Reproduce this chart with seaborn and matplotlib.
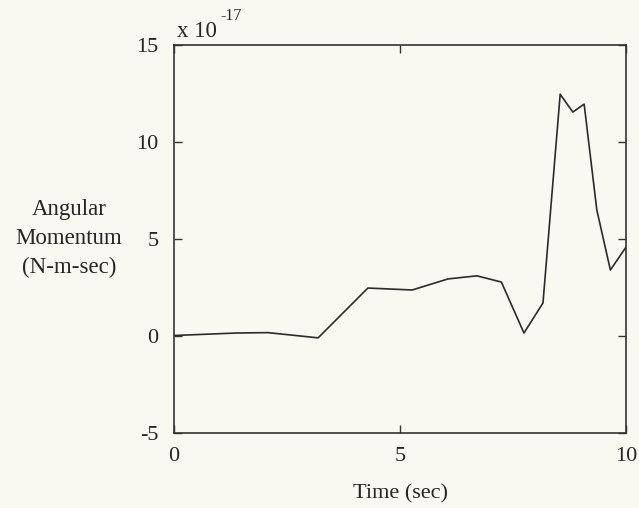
import matplotlib
matplotlib.use("Agg")
import matplotlib.pyplot as plt
import numpy as np
import seaborn as sns
import pandas as pd

# time (sec) and angular momentum (x 1e-17 N-m-sec)
time_sec = [0.0, 1.39, 2.08, 3.19, 4.29, 5.27, 6.06, 6.70, 7.24, 7.74, 8.16,
            8.54, 8.82, 9.07, 9.35, 9.65, 10.0]
momentum = [0.02, 0.15, 0.17, -0.10, 2.47, 2.37, 2.94, 3.10, 2.78, 0.15, 1.70,
            12.47, 11.55, 11.96, 6.50, 3.40, 4.60]

df = pd.DataFrame({"Time": time_sec, "Momentum": momentum})

sns.set_style("ticks")
plt.rcParams['font.family'] = ['Liberation Serif', 'DejaVu Serif']
plt.rcParams['axes.unicode_minus'] = False

bg = '#f9f9f1'
fig = plt.figure(figsize=(6.39, 5.08), dpi=100, facecolor=bg)
ax = fig.add_axes([0.272, 0.148, 0.708, 0.763])
ax.set_facecolor(bg)

sns.lineplot(x='Time', y='Momentum', data=df, ax=ax, color='#2b2b2b', linewidth=1.2)

ax.set_xlim(0, 10)
ax.set_ylim(-5, 15)
ax.set_xticks([0, 5, 10])
ax.set_yticks([-5, 0, 5, 10, 15])
ax.tick_params(direction='in', top=True, right=True, labelsize=16, length=6,
               width=1, color='#333333')
ax.tick_params(axis='y', pad=11)
ax.tick_params(axis='x', pad=10)
for s in ax.spines.values():
    s.set_linewidth(1.2)
    s.set_color('#333333')

ax.set_xlabel('Time (sec)', fontsize=16, labelpad=13)
ax.set_ylabel('')
fig.text(0.108, 0.531, 'Angular\nMomentum\n(N-m-sec)', ha='center', va='center',
         fontsize=16.5, linespacing=1.5)
# scale factor shown above the axes
fig.text(0.277, 0.927, 'x 10', ha='left', va='baseline', fontsize=16.5)
fig.text(0.345, 0.960, '-17', ha='left', va='baseline', fontsize=11.5)

fig.savefig('out.png', dpi=100, facecolor=bg)
